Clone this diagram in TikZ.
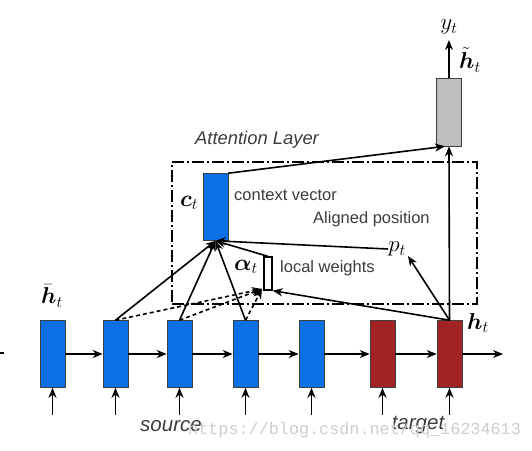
\documentclass[tikz,border=0pt]{standalone}
\usepackage{fix-cm}
\usepackage{amsmath}
\usepackage{bm}
\usepackage{fontspec}
\setmainfont{Liberation Sans}
\newfontfamily\wmfont{Liberation Mono}
\usetikzlibrary{arrows.meta,calc}
\definecolor{encblue}{RGB}{10,112,228}
\definecolor{decred}{RGB}{160,36,36}
\definecolor{boxgray}{RGB}{190,190,190}
\definecolor{txtgray}{RGB}{60,60,60}
\definecolor{wmgray}{RGB}{205,205,205}
\begin{document}
\begin{tikzpicture}[x=1pt,y=-1pt,
  cell/.style={draw=black!75, line width=0.6pt, minimum width=25pt, minimum height=67pt, inner sep=0pt},
  enc/.style={cell, fill=encblue},
  dec/.style={cell, fill=decred},
  arr/.style={line width=1.6pt, -{Stealth[length=10pt,width=8pt]}},
  darr/.style={arr, dash pattern=on 4pt off 3pt},
  plain/.style={line width=1.6pt},
  attbox/.style={draw, line width=1.6pt, dash pattern=on 12pt off 3pt on 2pt off 3pt, minimum width=305pt, minimum height=142pt, inner sep=0pt},
  lbl/.style={font=\fontsize{16.5}{19}\selectfont, text=txtgray, inner sep=0pt},
  ital/.style={font=\fontsize{18.4}{21}\selectfont\itshape, text=txtgray, inner sep=0pt},
  bigital/.style={font=\fontsize{20.5}{23}\selectfont\itshape, text=txtgray, inner sep=0pt},
  mth/.style={font=\fontsize{23}{26}\selectfont, inner sep=0pt}
]
\useasboundingbox (0,0) rectangle (532,450);

% attention layer box
\node[attbox] (att) at (324.5,233) {};
\node[ital] (attl) at (257,140) {Attention Layer};

% bottom row
\node[enc] (s1) at (52.5,354) {};
\node[enc] (s2) at (115.5,354) {};
\node[enc] (s3) at (179.5,354) {};
\node[enc] (s4) at (245.5,354) {};
\node[enc] (s5) at (311.5,354) {};
\node[dec] (t1) at (382.5,354) {};
\node[dec] (t2) at (449.5,354) {};

% horizontal recurrent arrows
\coordinate (lft0) at (0,353);
\coordinate (lft1) at (4,353);
\draw[plain] (lft0) -- (lft1);
\draw[arr] (s1.east) -- (s2.west);
\draw[arr] (s2.east) -- (s3.west);
\draw[arr] (s3.east) -- (s4.west);
\draw[arr] (s4.east) -- (s5.west);
\draw[arr] (s5.east) -- (t1.west);
\draw[arr] (t1.east) -- (t2.west);
\coordinate (rgt) at (503,354);
\draw[arr] (t2.east) -- (rgt);

% input arrows
\foreach \n in {s1,s2,s3,s4,s5,t1,t2}{
  \coordinate (in-\n) at ($(\n.south)+(0,27)$);
  \draw[arr] (in-\n) -- (\n.south);
}

% context vector and output
\node[enc] (c) at (215.5,207) {};
\node[cell, fill=boxgray, minimum height=68pt] (g) at (449,112) {};
\coordinate (yt) at (449,40);
\draw[arr] (g.north) -- (yt);
\node[mth] (ylab) at (449,27) {$y_t$};
\node[mth] (htil) at (470,60) {$\tilde{\bm{h}}_t$};

\coordinate (gin) at ($(g.south)+(-4,0)$);
\draw[arr] (c.north east) -- (gin);
\draw[arr] (t2.north) -- (g.south);

% alignment / local weights
\node[draw, line width=1.3pt, minimum width=8pt, minimum height=33pt, inner sep=0pt] (al) at (268,273.5) {};
\node[mth] (pt) at (397,249) {$p_t$};
\coordinate (ptin) at (408,256);
\coordinate (alin) at (262,289);

\draw[arr] (s2.north) -- (c.south);
\draw[arr] (s3.north) -- (c.south);
\draw[arr] (s4.north) -- (c.south);
\draw[arr] (al.north) -- (c.south);
\draw[arr] (pt.west) -- (c.south);

\draw[darr] (s2.north) -- (alin);
\draw[darr] (s3.north) -- (alin);
\draw[darr] (s4.north) -- (alin);
\draw[arr] (t2.north) -- (al.south east);
\draw[arr] (t2.north) -- (ptin);

% labels
\node[mth] (hbar) at (52,296) {$\bar{\bm{h}}_t$};
\node[mth] (hlab) at (478,323) {$\bm{h}_t$};
\node[mth] (clab) at (189,203) {$\bm{c}_t$};
\node[lbl, anchor=west] (cvl) at (234,195) {context vector};
\node[lbl, anchor=west] (apl) at (313,219) {Aligned position};
\node[mth] (alab) at (246,267) {$\bm{\alpha}_t$};
\node[lbl, anchor=west] (lwl) at (280,268) {local weights};
\node[bigital] (src) at (171,426) {source};
\node[bigital] (tgt) at (418,425) {target};
\node[font=\fontsize{16.8}{18}\selectfont\wmfont, text=wmgray, anchor=west, inner sep=0pt] (wm) at (188,430) {https://blog.csdn.net/qq\_16234613};
\end{tikzpicture}
\end{document}
